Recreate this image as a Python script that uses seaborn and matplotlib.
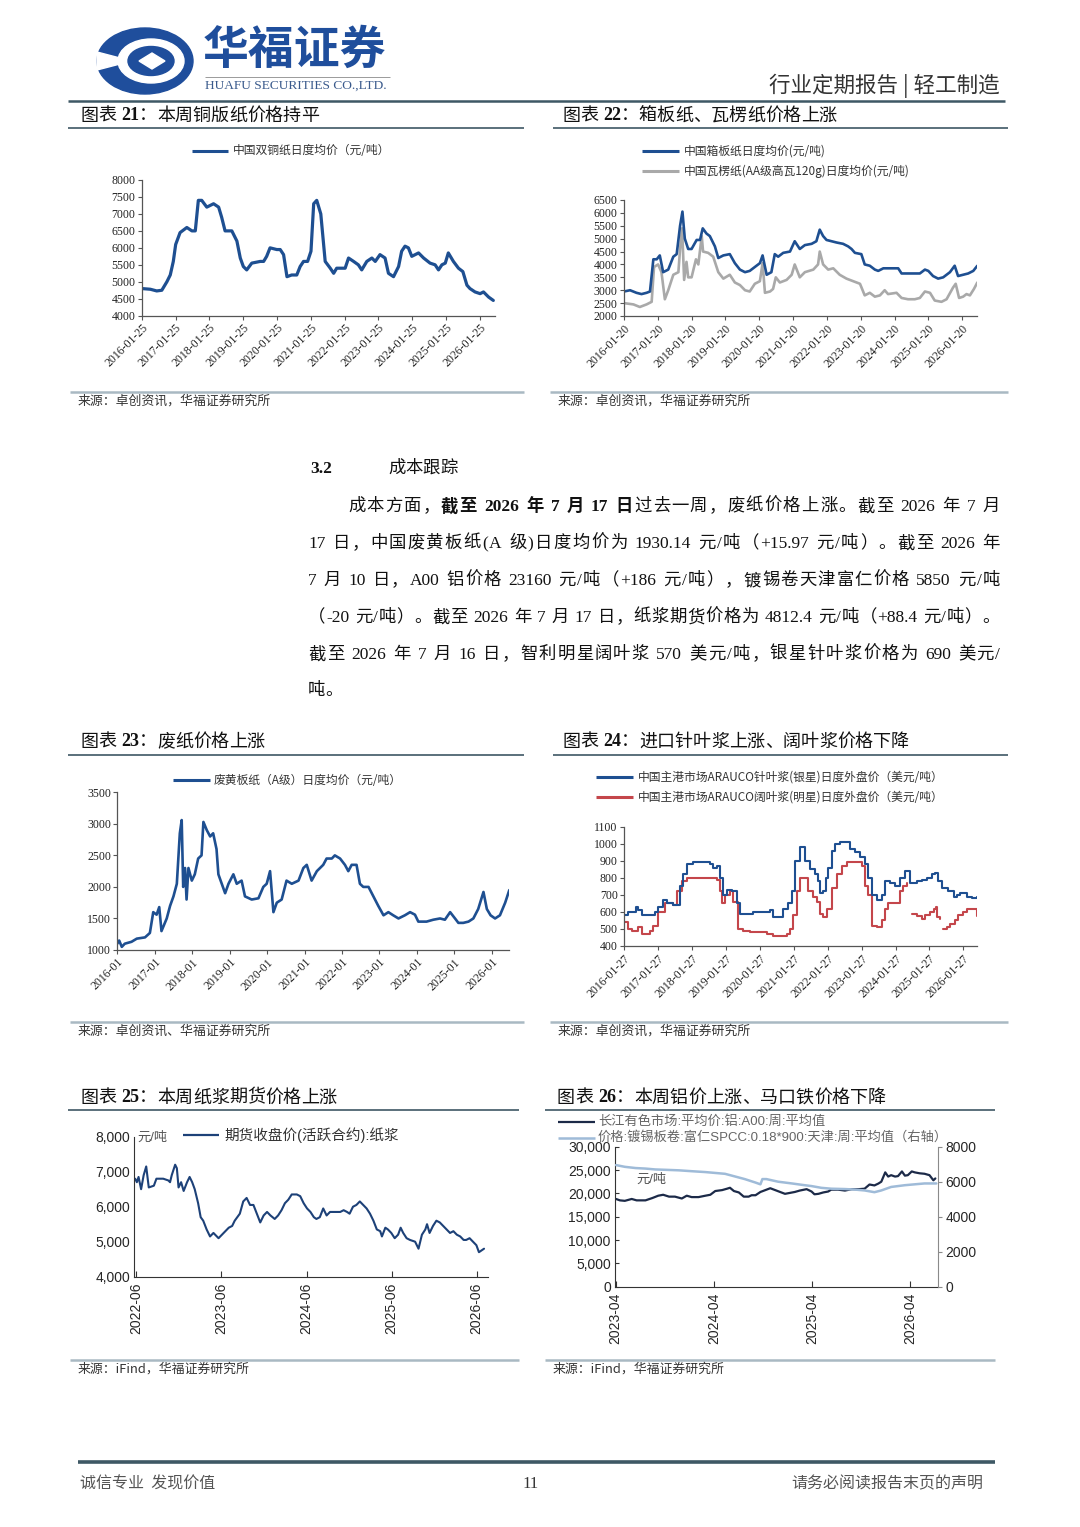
import re
import numpy as np
import pandas as pd
import seaborn as sns
import matplotlib.pyplot as plt
from matplotlib.patches import Ellipse, Polygon

W, H = 1080, 1527

# x values are dates, written as decimal years
# 图表21 中国双铜纸日度均价(元/吨)
cu_t = [2016.07, 2016.32, 2016.51, 2016.66, 2016.81, 2016.91, 2017.00, 2017.07, 2017.20, 2017.40,
        2017.55, 2017.65, 2017.74, 2017.84, 2017.99, 2018.19, 2018.34, 2018.43, 2018.53, 2018.73,
        2018.88, 2018.98, 2019.07, 2019.17, 2019.32, 2019.57, 2019.67, 2019.76, 2019.86, 2020.06,
        2020.16, 2020.26, 2020.36, 2020.50, 2020.65, 2020.75, 2020.85, 2020.97, 2021.07, 2021.15,
        2021.24, 2021.36, 2021.49, 2021.64, 2021.74, 2021.83, 2022.08, 2022.18, 2022.33, 2022.47,
        2022.57, 2022.72, 2022.87, 2022.97, 2023.11, 2023.26, 2023.36, 2023.51, 2023.66, 2023.75,
        2023.85, 2023.95, 2024.05, 2024.25, 2024.40, 2024.59, 2024.74, 2024.84, 2024.94, 2025.04,
        2025.13, 2025.28, 2025.43, 2025.56, 2025.68, 2025.77, 2025.92, 2026.07, 2026.17, 2026.32,
        2026.46]
cu_v = [4800, 4780, 4730, 4750, 5000, 5200, 5600, 6100, 6450, 6600,
        6500, 6500, 7400, 7400, 7200, 7300, 7200, 6900, 6500, 6500,
        6200, 5700, 5450, 5350, 5550, 5600, 5600, 5750, 6000, 5950,
        5950, 5800, 5150, 5200, 5200, 5450, 5600, 5600, 5900, 7300,
        7400, 7000, 5600, 5400, 5250, 5400, 5400, 5700, 5600, 5500,
        5350, 5600, 5700, 5600, 5800, 5700, 5250, 5150, 5450, 5900,
        6050, 6000, 5750, 5850, 5700, 5550, 5500, 5350, 5500, 5550,
        5850, 5600, 5400, 5300, 4900, 4800, 4700, 4650, 4700, 4550,
        4450]

# 图表22 箱板纸 / 瓦楞纸 (元/吨)
box_t = [2016.05, 2016.23, 2016.42, 2016.57, 2016.72, 2016.82, 2016.92, 2017.02, 2017.11, 2017.21,
         2017.36, 2017.51, 2017.61, 2017.71, 2017.78, 2017.85, 2017.95, 2018.05, 2018.20, 2018.30,
         2018.38, 2018.49, 2018.59, 2018.74, 2018.84, 2018.99, 2019.18, 2019.33, 2019.48, 2019.63,
         2019.77, 2019.92, 2020.07, 2020.15, 2020.27, 2020.41, 2020.51, 2020.61, 2020.76, 2020.96,
         2021.10, 2021.25, 2021.40, 2021.60, 2021.74, 2021.84, 2021.94, 2022.04, 2022.19, 2022.34,
         2022.53, 2022.68, 2022.78, 2022.88, 2023.07, 2023.17, 2023.32, 2023.47, 2023.57, 2023.72,
         2023.96, 2024.16, 2024.26, 2024.45, 2024.65, 2024.80, 2024.95, 2025.05, 2025.19, 2025.34,
         2025.49, 2025.69, 2025.83, 2025.93, 2026.08, 2026.23, 2026.38, 2026.50]
box_v = [2950, 3000, 2900, 2850, 2900, 2950, 4200, 4200, 4350, 3700,
         3800, 4300, 4400, 5500, 6050, 5000, 4600, 4600, 4950, 4950,
         5400, 5200, 5100, 4700, 4250, 4350, 4400, 4050, 3800, 3700,
         3750, 3900, 4050, 4350, 3600, 3700, 4400, 4300, 4450, 4500,
         4900, 4600, 4750, 4800, 4900, 5350, 5100, 4950, 4900, 4850,
         4800, 4700, 4600, 4450, 4400, 4000, 3950, 3800, 3750, 3850,
         3850, 3850, 3650, 3650, 3650, 3650, 3800, 3750, 3550, 3450,
         3500, 3700, 3950, 3550, 3600, 3650, 3750, 3950]
cor_t = [2016.05, 2016.33, 2016.52, 2016.72, 2016.87, 2016.94, 2017.06, 2017.16, 2017.26, 2017.36,
         2017.51, 2017.66, 2017.71, 2017.77, 2017.83, 2017.90, 2017.95, 2018.05, 2018.18, 2018.25,
         2018.35, 2018.39, 2018.54, 2018.69, 2018.84, 2018.99, 2019.18, 2019.33, 2019.48, 2019.63,
         2019.77, 2019.92, 2020.07, 2020.15, 2020.22, 2020.37, 2020.46, 2020.54, 2020.66, 2020.86,
         2021.01, 2021.10, 2021.25, 2021.40, 2021.65, 2021.79, 2021.84, 2021.94, 2022.09, 2022.24,
         2022.43, 2022.63, 2022.83, 2023.03, 2023.17, 2023.32, 2023.47, 2023.62, 2023.76, 2023.86,
         2024.11, 2024.26, 2024.45, 2024.65, 2024.80, 2024.95, 2025.10, 2025.24, 2025.44, 2025.59,
         2025.78, 2025.86, 2025.96, 2026.08, 2026.18, 2026.28, 2026.40, 2026.50]
cor_v = [2500, 2450, 2350, 2450, 2550, 3900, 4000, 3700, 2650, 3000,
         3600, 3700, 4600, 5400, 3400, 4100, 3500, 3500, 4200, 4000,
         5100, 4500, 4450, 4300, 3700, 3450, 3600, 3300, 3200, 3000,
         2950, 3250, 3350, 4050, 2900, 2950, 3050, 3500, 3300, 3400,
         3600, 4000, 3500, 3700, 3800, 4000, 4500, 4000, 3800, 3850,
         3600, 3450, 3350, 3250, 2800, 2900, 2750, 2800, 3000, 2850,
         2900, 2700, 2650, 2650, 2700, 2950, 2900, 2600, 2550, 2650,
         3100, 3250, 2700, 2750, 2850, 2800, 3050, 3300]

# 图表23 废黄板纸(A级)日度均价(元/吨)
waste_t = [2016.00, 2016.05, 2016.12, 2016.20, 2016.38, 2016.52, 2016.74, 2016.87, 2016.96,
           2017.05, 2017.12, 2017.18, 2017.32, 2017.41, 2017.50, 2017.59, 2017.67, 2017.72, 2017.76,
           2017.81, 2017.85, 2017.90, 2017.99,
           2018.07, 2018.16, 2018.25, 2018.30, 2018.39, 2018.48, 2018.56, 2018.65, 2018.70, 2018.79,
           2018.88, 2018.97,
           2019.10, 2019.19, 2019.32, 2019.41, 2019.59, 2019.77, 2019.90, 2019.99,
           2020.08, 2020.17, 2020.26, 2020.39, 2020.52, 2020.66, 2020.84, 2020.97,
           2021.06, 2021.19, 2021.33, 2021.50, 2021.59, 2021.73, 2021.81, 2021.95,
           2022.08, 2022.17, 2022.26, 2022.39, 2022.48, 2022.57, 2022.71, 2022.84, 2022.97,
           2023.11, 2023.24, 2023.37, 2023.51, 2023.68, 2023.82, 2023.95,
           2024.04, 2024.26, 2024.44, 2024.62, 2024.75, 2024.89,
           2025.02, 2025.11, 2025.24, 2025.38, 2025.51, 2025.64, 2025.78, 2025.87, 2025.97,
           2026.09, 2026.22, 2026.36, 2026.47]
waste_v = [1100, 1150, 1050, 1100, 1130, 1180, 1200, 1270, 1600,
           1560, 1680, 1300, 1500, 1700, 1850, 2050, 2850, 3060, 2000,
           2300, 1800, 2300, 2100,
           2200, 2450, 2500, 3030, 2900, 2800, 2850, 2600, 2200, 2050,
           1900, 2050,
           2200, 2050, 2100, 1850, 1800, 1820, 2000, 2050,
           2250, 1600, 1750, 1800, 2100, 2050, 2100, 2300,
           2350, 2100, 2250, 2350, 2450, 2450, 2500, 2450,
           2350, 2250, 2350, 2350, 2050, 2000, 2000, 1850, 1700,
           1550, 1600, 1550, 1500, 1550, 1600, 1560,
           1450, 1450, 1480, 1500, 1480, 1600,
           1500, 1430, 1430, 1450, 1500, 1650, 1920, 1650, 1550,
           1500, 1550, 1750, 1950]

# 图表24 ARAUCO 针叶浆(银星) / 阔叶浆(明星) (美元/吨)
soft_t = [2016.07, 2016.20, 2016.35, 2016.42, 2016.49, 2016.59, 2016.84, 2016.98,
          2017.08, 2017.23, 2017.33, 2017.52, 2017.72, 2017.82, 2017.92,
          2018.11, 2018.60, 2018.70, 2018.80, 2018.90,
          2019.00, 2019.10, 2019.24, 2019.39, 2019.49, 2019.68, 2019.88,
          2020.18, 2020.37, 2020.47, 2020.67, 2020.77, 2020.91,
          2021.01, 2021.11, 2021.26, 2021.40, 2021.55, 2021.70, 2021.80, 2021.85, 2021.94,
          2022.02, 2022.09, 2022.19, 2022.29, 2022.44, 2022.58, 2022.73, 2022.88,
          2023.02, 2023.17, 2023.27, 2023.37, 2023.52, 2023.66, 2023.76, 2023.91,
          2024.06, 2024.20, 2024.35, 2024.50, 2024.69, 2024.84, 2024.99,
          2025.14, 2025.23, 2025.33, 2025.43, 2025.63, 2025.78, 2025.87, 2025.97,
          2026.17, 2026.32, 2026.48]
soft_v = [580, 600, 600, 630, 610, 580, 580, 600,
          630, 670, 650, 640, 750, 820, 880,
          890, 880, 860, 870, 800,
          700, 730, 720, 650, 590, 590, 600,
          600, 610, 570, 570, 620, 650,
          720, 900, 980, 900, 850, 820, 780, 710, 720,
          800, 860, 960, 1000, 1010, 1010, 970, 950,
          920, 880, 800, 700, 670, 700, 780, 770,
          750, 800, 840, 770, 780, 790, 800,
          820, 830, 780, 740, 720, 690, 700, 710,
          690, 680, 690]
hard_t1 = [2016.07, 2016.20, 2016.30, 2016.49, 2016.59, 2016.84, 2016.93,
           2017.08, 2017.28, 2017.43, 2017.52, 2017.62, 2017.77, 2017.92,
           2018.41, 2018.80, 2018.90, 2018.95,
           2019.05, 2019.19, 2019.29, 2019.44, 2019.59, 2019.78,
           2020.08, 2020.27, 2020.47, 2020.86, 2020.96,
           2021.06, 2021.16, 2021.26, 2021.40, 2021.50, 2021.65, 2021.75, 2021.85, 2021.94,
           2022.04, 2022.19, 2022.34, 2022.48, 2022.63, 2022.93,
           2023.07, 2023.17, 2023.27, 2023.37, 2023.52, 2023.66, 2023.76, 2023.86,
           2024.11, 2024.20, 2024.30, 2024.40]
hard_v1 = [540, 500, 490, 510, 470, 490, 520,
           600, 650, 650, 640, 720, 780, 800,
           800, 790, 720, 650,
           700, 720, 660, 500, 490, 480,
           480, 470, 460, 470, 500,
           580, 720, 800, 800, 720, 690, 660, 590, 570,
           620, 740, 820, 870, 890, 890,
           870, 750, 700, 520, 510, 550, 620, 650,
           650, 720, 750, 770]
hard_t2 = [2024.55, 2024.69, 2024.84, 2024.94, 2025.09, 2025.19, 2025.26, 2025.29, 2025.37]
hard_v2 = [590, 575, 560, 580, 600, 620, 630, 570, 560]
hard_t3 = [2025.48, 2025.58, 2025.68, 2025.83, 2025.92, 2026.07, 2026.17, 2026.37, 2026.48]
hard_v3 = [500, 510, 530, 550, 580, 600, 620, 620, 575]

# 图表25 期货收盘价(活跃合约):纸浆 (元/吨)
fut_t = [2022.40, 2022.42, 2022.44, 2022.47, 2022.50, 2022.53, 2022.56, 2022.62, 2022.65, 2022.73,
         2022.79, 2022.81, 2022.83, 2022.87, 2022.89, 2022.91, 2022.94, 2022.97, 2023.01, 2023.04,
         2023.07, 2023.10, 2023.14, 2023.17, 2023.20, 2023.24, 2023.28, 2023.32, 2023.36, 2023.38,
         2023.42, 2023.46, 2023.50, 2023.54, 2023.57, 2023.63, 2023.67, 2023.71, 2023.75, 2023.79,
         2023.83, 2023.87, 2023.91, 2023.95, 2023.99, 2024.04, 2024.08, 2024.12, 2024.16, 2024.20,
         2024.24, 2024.30, 2024.34, 2024.38, 2024.42, 2024.46, 2024.50, 2024.53, 2024.57, 2024.61,
         2024.65, 2024.69, 2024.73, 2024.77, 2024.81, 2024.85, 2024.89, 2024.92, 2024.96, 2025.00,
         2025.04, 2025.08, 2025.12, 2025.16, 2025.20, 2025.24, 2025.28, 2025.30, 2025.34, 2025.37,
         2025.41, 2025.45, 2025.49, 2025.52, 2025.55, 2025.59, 2025.63, 2025.69, 2025.73, 2025.77,
         2025.81, 2025.83, 2025.86, 2025.90, 2025.94, 2025.98, 2026.02, 2026.06, 2026.10, 2026.14,
         2026.18, 2026.22, 2026.26, 2026.29, 2026.33, 2026.37, 2026.41, 2026.44, 2026.47, 2026.50]
fut_v = [6800, 6700, 6850, 6500, 6900, 7150, 6550, 6600, 6800, 6800,
         6750, 6700, 6900, 7200, 7100, 6550, 6700, 6450, 6700, 6850,
         6700, 6500, 6100, 5700, 5600, 5350, 5150, 5250, 5150, 5100,
         5200, 5300, 5400, 5450, 5600, 5800, 6150, 6250, 6050, 6050,
         5800, 5550, 5750, 5850, 5750, 5650, 5750, 5900, 6100, 6200,
         6350, 6350, 6300, 6100, 5950, 5850, 5700, 5650, 5700, 5950,
         5750, 5850, 5850, 5850, 5850, 5900, 5850, 5800, 6000, 6050,
         6150, 6050, 5950, 5800, 5600, 5350, 5300, 5150, 5400, 5350,
         5250, 5100, 5200, 5400, 5250, 5100, 5050, 5000, 4800, 5200,
         5350, 5500, 5250, 5450, 5600, 5550, 5450, 5350, 5250, 5300,
         5200, 5150, 5050, 5050, 5100, 5000, 4900, 4700, 4750, 4800]

# 图表26 铝 A00 (左轴) / 镀锡板卷 (右轴) (元/吨)
al_t = [2023.25, 2023.29, 2023.34, 2023.41, 2023.46, 2023.55, 2023.62, 2023.68, 2023.73, 2023.79,
        2023.85, 2023.92, 2023.97, 2024.02, 2024.09, 2024.16, 2024.21, 2024.26, 2024.33, 2024.38,
        2024.41, 2024.45, 2024.50, 2024.55, 2024.60, 2024.63, 2024.67, 2024.72, 2024.77, 2024.82,
        2024.87, 2024.92, 2024.97, 2025.02, 2025.07, 2025.12, 2025.19, 2025.24, 2025.27, 2025.31,
        2025.36, 2025.41, 2025.44, 2025.51, 2025.58, 2025.65, 2025.72, 2025.78, 2025.83, 2025.88,
        2025.92, 2025.95, 2025.99, 2026.02, 2026.05, 2026.09, 2026.12, 2026.16, 2026.19, 2026.22,
        2026.26, 2026.29, 2026.34, 2026.39, 2026.44, 2026.48, 2026.50]
al_v = [18800, 18500, 18400, 18800, 18500, 18500, 19000, 19500, 19700, 19300,
        19300, 18900, 19500, 19200, 19200, 19500, 19700, 20500, 20700, 21000,
        21200, 20500, 20200, 19300, 19300, 19600, 19600, 20300, 20700, 21100,
        20700, 20300, 19900, 20100, 20300, 20600, 20900, 20400, 19800, 19900,
        20200, 20400, 20800, 20800, 20600, 20900, 20900, 21000, 21900, 21700,
        22100, 22500, 24500, 23600, 23900, 23600, 23700, 24700, 23800, 23900,
        24700, 24500, 24300, 24200, 23900, 22800, 23200]
tin_t = [2023.25, 2023.34, 2023.45, 2023.55, 2023.65, 2023.75, 2023.89, 2024.02, 2024.16, 2024.26,
         2024.36, 2024.46, 2024.56, 2024.67, 2024.72, 2024.74, 2024.78, 2024.90, 2025.04, 2025.17,
         2025.24, 2025.34, 2025.44, 2025.58, 2025.68, 2025.78, 2025.88, 2025.95, 2026.05, 2026.19,
         2026.29, 2026.39, 2026.51]
tin_v = [6950, 6850, 6780, 6750, 6700, 6680, 6650, 6600, 6550, 6500,
         6450, 6300, 6150, 5950, 5850, 6150, 6150, 6000, 5900, 5800,
         5750, 5650, 5600, 5580, 5550, 5500, 5400, 5500, 5700, 5800,
         5850, 5900, 5900]

BLUE = '#1e4f91'
GRAY = '#a9a9a9'
RED = '#c4464b'
LOGO = '#1f4e9c'
RULE = '#3e5865'
SRC_RULE = '#a9b9c3'

SERIF = ['Liberation Serif', 'Noto Sans CJK SC']
SANS = ['Liberation Sans', 'Noto Sans CJK SC']
CJK = ['Noto Sans CJK SC', 'DejaVu Sans']

sns.set_style('ticks')
plt.rcParams['font.family'] = SERIF
plt.rcParams['axes.unicode_minus'] = False


def dec(s):
    d = pd.Timestamp(s)
    return d.year + (d.dayofyear - 1) / 365.25


def frac(l, t, r, b):
    return [l / W, 1 - b / H, (r - l) / W, (b - t) / H]


fig = plt.figure(figsize=(W / 100, H / 100), dpi=100)
fig.patch.set_facecolor('white')


def serif_axes(box, xlim, yvals, tick_dates, tick_labels):
    ax = fig.add_axes(frac(*box))
    ax.set_xlim(*xlim)
    ax.set_ylim(yvals[0], yvals[-1])
    ax.set_yticks(yvals, [str(v) for v in yvals], fontsize=8.5, fontfamily=SERIF)
    ax.set_xticks([dec(d) for d in tick_dates], tick_labels, rotation=45, ha='right',
                  rotation_mode='anchor', fontsize=8.5, fontfamily=SERIF)
    sns.despine(ax=ax)
    for s in ['left', 'bottom']:
        ax.spines[s].set_color('#555555')
        ax.spines[s].set_linewidth(0.9)
    ax.tick_params(length=3, width=0.8, color='#555555', pad=1.5, labelcolor='#222222')
    ax.set_xlabel('')
    ax.set_ylabel('')
    ax.patch.set_alpha(0)
    return ax


years = range(2016, 2027)

# 图表21
ax21 = serif_axes((141.7, 180, 495, 315.7), (dec('2016-01-25'), 2026.51), list(range(4000, 8001, 500)),
                  [f'{y}-01-25' for y in years], [f'{y}-01-25' for y in years])
sns.lineplot(x=cu_t, y=cu_v, ax=ax21, color=BLUE, lw=2.3, estimator=None, sort=False)

# 图表22
ax22 = serif_axes((624, 200, 977, 316), (dec('2016-01-20'), 2026.49), list(range(2000, 6501, 500)),
                  [f'{y}-01-20' for y in years], [f'{y}-01-20' for y in years])
sns.lineplot(x=cor_t, y=cor_v, ax=ax22, color=GRAY, lw=1.9, estimator=None, sort=False)
sns.lineplot(x=box_t, y=box_v, ax=ax22, color=BLUE, lw=1.9, estimator=None, sort=False)

# 图表23
ax23 = serif_axes((117.3, 792.3, 509.3, 950), (2016.0, 2026.47), list(range(1000, 3501, 500)),
                  [f'{y}-01-01' for y in years], [f'{y}-01' for y in years])
sns.lineplot(x=waste_t, y=waste_v, ax=ax23, color=BLUE, lw=1.9, estimator=None, sort=False)

# 图表24
ax24 = serif_axes((624, 826.7, 977.3, 946), (dec('2016-01-27'), 2026.48), list(range(400, 1101, 100)),
                  [f'{y}-01-27' for y in years], [f'{y}-01-27' for y in years])
for t, v in [(hard_t1, hard_v1), (hard_t2, hard_v2), (hard_t3, hard_v3)]:
    sns.lineplot(x=t, y=v, ax=ax24, color=RED, lw=1.5, estimator=None, sort=False,
                 drawstyle='steps-post')
sns.lineplot(x=soft_t, y=soft_v, ax=ax24, color=BLUE, lw=1.5, estimator=None, sort=False,
             drawstyle='steps-post')

# 图表25
ax25 = fig.add_axes(frac(134.3, 1136.7, 488.3, 1276.7))
sns.lineplot(x=fut_t, y=fut_v, ax=ax25, color='#1d4178', lw=1.5, estimator=None, sort=False)
ax25.set_xlim(2022.39, 2026.55)
ax25.set_ylim(4000, 8000)
fv = [4000, 5000, 6000, 7000, 8000]
ax25.set_yticks(fv, [f'{v:,}' for v in fv], fontsize=10, fontfamily=SANS)
fy = range(2022, 2027)
ax25.set_xticks([dec(f'{y}-06-01') for y in fy], [f'{y}-06' for y in fy], rotation=90,
                fontsize=10, fontfamily=SANS)
sns.despine(ax=ax25)
ax25.tick_params(axis='x', direction='in', length=4, color='#333333', pad=4)
ax25.tick_params(axis='y', length=0, pad=3)
ax25.spines['left'].set_color('#333333')
ax25.spines['bottom'].set_color('#333333')
ax25.patch.set_alpha(0)
ax25.set_xlabel('')
ax25.set_ylabel('')

# 图表26
ax26 = fig.add_axes(frac(615, 1146.7, 938.3, 1286.7))
ax26b = ax26.twinx()
sns.lineplot(x=al_t, y=al_v, ax=ax26, color='#1c2a48', lw=1.6, estimator=None, sort=False)
sns.lineplot(x=tin_t, y=tin_v, ax=ax26b, color='#9fbbd8', lw=1.8, estimator=None, sort=False)
ax26.set_xlim(2023.24, 2026.53)
ax26.set_ylim(0, 30000)
ax26b.set_ylim(0, 8000)
lv = [0, 5000, 10000, 15000, 20000, 25000, 30000]
ax26.set_yticks(lv, [f'{v:,}' for v in lv], fontsize=10, fontfamily=SANS)
rv = [0, 2000, 4000, 6000, 8000]
ax26b.set_yticks(rv, [str(v) for v in rv], fontsize=10, fontfamily=SANS)
ay = range(2023, 2027)
ax26.set_xticks([dec(f'{y}-04-01') for y in ay], [f'{y}-04' for y in ay], rotation=90,
                fontsize=10, fontfamily=SANS)
ax26.spines['top'].set_visible(False)
ax26b.spines['top'].set_visible(False)
ax26.spines['right'].set_visible(False)
ax26.spines['left'].set_color('#333333')
ax26.spines['bottom'].set_color('#333333')
ax26b.spines['right'].set_color('#8a8a8a')
ax26b.spines['left'].set_visible(False)
ax26b.spines['bottom'].set_visible(False)
ax26.tick_params(axis='x', direction='in', length=4, color='#333333', pad=4)
ax26.tick_params(axis='y', direction='in', length=3, color='#333333', pad=3)
ax26b.tick_params(axis='y', direction='out', length=3, color='#8a8a8a', pad=2)
for a in (ax26, ax26b):
    a.set_xlabel('')
    a.set_ylabel('')
    a.patch.set_alpha(0)

# page overlay in pixel coordinates
ov = fig.add_axes([0, 0, 1, 1], zorder=10)
ov.set_xlim(0, W)
ov.set_ylim(H, 0)
ov.axis('off')
ov.patch.set_alpha(0)
rend = fig.canvas.get_renderer()


def rule(x0, x1, y, color=RULE, lw=1.2):
    ov.plot([x0, x1], [y, y], color=color, lw=lw, solid_capstyle='butt')


def txt(x, y, s, size=9, family=CJK, color='#222222', **kw):
    return ov.text(x, y, s, fontsize=size, family=family, color=color, va='center', **kw)


def run(y, x0, segs, x1=None, size=12.5, color='#111111'):
    toks = []
    for s, bold in segs:
        for t in re.findall(r'[0-9A-Za-z.+\-*]+| |.', s):
            toks.append((t, bold))
    arts, widths = [], []
    for t, bold in toks:
        if t == ' ':
            arts.append(None)
            widths.append(size * 1.389 * 0.27)
            continue
        a = ov.text(0, y, t, fontsize=size, family=SERIF, color=color, va='center', ha='left',
                    fontweight='bold' if bold else 'normal')
        arts.append(a)
        widths.append(a.get_window_extent(renderer=rend).width)
    gap = 0.0
    if x1 is not None and len(toks) > 1:
        gap = (x1 - x0 - sum(widths)) / (len(toks) - 1)
    x = x0
    for a, w in zip(arts, widths):
        if a is not None:
            a.set_x(x)
        x += w + gap


# header / logo
ov.add_patch(Ellipse((145, 61), 96, 66, color=LOGO))
ov.add_patch(Ellipse((151, 61), 66, 44, color='white'))
ov.add_patch(Ellipse((151, 61), 46, 29, color=LOGO))
ov.add_patch(Polygon([(139, 61), (152, 53), (165, 61), (152, 69)], color='white'))
ov.add_patch(Polygon([(97, 52), (120, 58), (120, 64), (97, 70)], color='white'))
txt(203, 51, '华福证券', size=33, color=LOGO, fontweight='bold')
rule(205, 390, 77, color='#9a9a9a', lw=0.7)
txt(205, 86, 'HUAFU SECURITIES CO.,LTD.', size=9.6, family=SERIF, color='#3a5a8c')
txt(1000, 86, '行业定期报告 | 轻工制造', size=15.5, color='#333333', ha='right')
rule(68, 1005, 101, lw=1.8)

# chart titles and rules
run(116, 80, [('图表 ', False), ('21', True), ('：本周铜版纸价格持平', False)], size=13)
run(116, 562, [('图表 ', False), ('22', True), ('：箱板纸、瓦楞纸价格上涨', False)], size=13)
rule(68, 524, 128)
rule(553, 1008, 128)
run(742, 80, [('图表 ', False), ('23', True), ('：废纸价格上涨', False)], size=13)
run(742, 562, [('图表 ', False), ('24', True), ('：进口针叶浆上涨、阔叶浆价格下降', False)], size=13)
rule(68, 524, 755)
rule(553, 1008, 755)
run(1098, 80, [('图表 ', False), ('25', True), ('：本周纸浆期货价格上涨', False)], size=13)
run(1098, 557, [('图表 ', False), ('26', True), ('：本周铝价上涨、马口铁价格下降', False)], size=13)
rule(68, 519, 1110)
rule(545, 995, 1110)

# legends
def key(x0, x1, y, color, lw=2.2):
    ov.plot([x0, x1], [y, y], color=color, lw=lw, solid_capstyle='butt')


LEG = 8.5
key(192, 228, 151, BLUE)
txt(233, 151, '中国双铜纸日度均价（元/吨）', size=LEG, color='#333333')
key(642, 679, 151, BLUE)
txt(684, 151, '中国箱板纸日度均价(元/吨)', size=LEG, color='#333333')
key(642, 679, 171, GRAY)
txt(684, 171, '中国瓦楞纸(AA级高瓦120g)日度均价(元/吨)', size=LEG, color='#333333')
key(173, 210, 780, BLUE)
txt(214, 780, '废黄板纸（A级）日度均价（元/吨）', size=LEG, color='#333333')
key(596, 633, 777, BLUE)
txt(638, 777, '中国主港市场ARAUCO针叶浆(银星)日度外盘价（美元/吨）', size=LEG, color='#333333')
key(596, 633, 797, RED)
txt(638, 797, '中国主港市场ARAUCO阔叶浆(明星)日度外盘价（美元/吨）', size=LEG, color='#333333')
key(183, 219, 1135, '#1d4178', lw=1.6)
txt(224, 1135, '期货收盘价(活跃合约):纸浆', size=10.5, family=SANS, color='#333333')
txt(137, 1138, '元/吨', size=9.5, family=SANS, color='#555555')
key(558, 595, 1122, '#1c2a48', lw=1.6)
txt(598, 1122, '长江有色市场:平均价:铝:A00:周:平均值', size=9.5, family=SANS, color='#666666')
key(558, 595, 1138, '#9fbbd8', lw=1.8)
txt(598, 1137, '价格:镀锡板卷:富仁SPCC:0.18*900:天津:周:平均值（右轴）', size=9.5, family=SANS,
    color='#666666')
txt(636, 1180, '元/吨', size=9.5, family=SANS, color='#555555')

# sources
for (x0, x1, y), s in [((70, 524, 392), '来源：卓创资讯，华福证券研究所'),
                       ((550, 1008, 392), '来源：卓创资讯，华福证券研究所'),
                       ((70, 524, 1022), '来源：卓创资讯、华福证券研究所'),
                       ((550, 1008, 1022), '来源：卓创资讯，华福证券研究所'),
                       ((70, 519, 1360), '来源：iFind，华福证券研究所'),
                       ((545, 995, 1360), '来源：iFind，华福证券研究所')]:
    rule(x0, x1, y, color=SRC_RULE, lw=1.8)
    txt(x0 + 8, y + 9, s, size=9.3, color='#333333')

# section text
run(469, 310, [('3.2', True)], size=12.5)
run(469, 388, [('成本跟踪', False)], size=12.5)
run(507, 348, [('成本方面，', False), ('截至 2026 年 7 月 17 日', True),
               ('过去一周，废纸价格上涨。截至 2026 年 7 月', False)], x1=1000)
run(544, 308, [('17 日，中国废黄板纸(A 级)日度均价为 1930.14 元/吨（+15.97 元/吨）。截至 2026 年', False)],
    x1=1000)
run(581, 308, [('7 月 10 日，A00 铝价格 23160 元/吨（+186 元/吨），镀锡卷天津富仁价格 5850 元/吨', False)],
    x1=1000)
run(618, 308, [('（-20 元/吨）。截至 2026 年 7 月 17 日，纸浆期货价格为 4812.4 元/吨（+88.4 元/吨）。', False)],
    x1=1000)
run(655, 308, [('截至 2026 年 7 月 16 日，智利明星阔叶浆 570 美元/吨，银星针叶浆价格为 690 美元/', False)],
    x1=1000)
run(691, 308, [('吨。', False)])

# footer
rule(78, 995, 1462, lw=2.6)
txt(80, 1484, '诚信专业  发现价值', size=11.5, color='#555555')
txt(531, 1484, '11', size=12, family=SERIF, color='#333333', ha='center')
txt(983, 1484, '请务必阅读报告末页的声明', size=11.5, color='#555555', ha='right')

fig.savefig('out.png', dpi=100)
